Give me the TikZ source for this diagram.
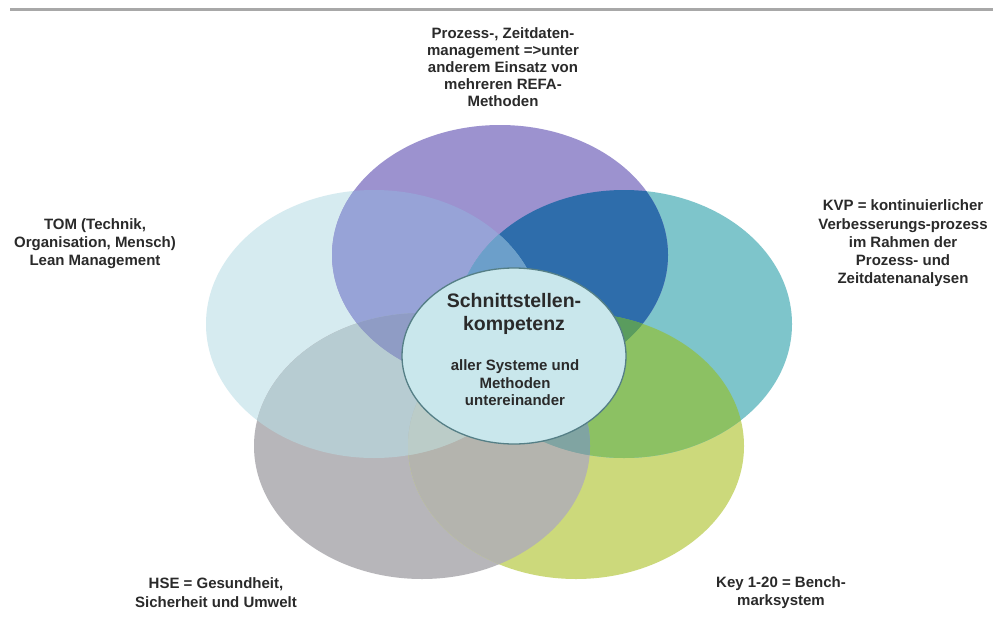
\documentclass[tikz,border=0pt]{standalone}
\usepackage{fontspec}
\setmainfont{Liberation Sans}
\definecolor{cL}{HTML}{D6EBF0}
\definecolor{cP}{HTML}{9C92CF}
\definecolor{cT}{HTML}{7EC5CB}
\definecolor{cG}{HTML}{CCD97B}
\definecolor{cH}{HTML}{B7B6BA}
\definecolor{cPL}{HTML}{97A3D7}
\definecolor{cPT}{HTML}{2E6DAB}
\definecolor{cTG}{HTML}{8CC163}
\definecolor{cHL}{HTML}{B7CCD2}
\definecolor{cHG}{HTML}{B4B4AE}
\definecolor{cPLT}{HTML}{6C9FCA}
\definecolor{cPLH}{HTML}{8F9CC5}
\definecolor{cPTG}{HTML}{5A9C5E}
\definecolor{cHGT}{HTML}{80A4A2}
\definecolor{cHGL}{HTML}{BBCCC8}
\definecolor{cLT}{HTML}{8BBFD0}
\definecolor{cCfill}{HTML}{C9E7EC}
\definecolor{cCdraw}{HTML}{557F86}
\definecolor{txtc}{HTML}{2A2A2A}
\definecolor{rulec}{HTML}{A8A8A8}
\newcommand\vennL{(374,324) ellipse [x radius=168pt, y radius=134pt]}
\newcommand\vennP{(500,255) ellipse [x radius=168pt, y radius=130pt]}
\newcommand\vennT{(624,324) ellipse [x radius=168pt, y radius=134pt]}
\newcommand\vennG{(576,446) ellipse [x radius=168pt, y radius=133pt]}
\newcommand\vennH{(422,446) ellipse [x radius=168pt, y radius=133pt]}
\newcommand\pairfill[3]{\begin{scope}\clip #1;\fill[#3] #2;\end{scope}}
\newcommand\triplefill[4]{\begin{scope}\clip #1;\clip #2;\fill[#4] #3;\end{scope}}
\begin{document}
\begin{tikzpicture}[x=1pt,y=-1pt,
  lbl/.style={font=\bfseries\fontsize{15}{18.3}\selectfont, text=txtc, align=center, inner sep=0pt},
  lbltop/.style={font=\bfseries\fontsize{15}{17}\selectfont, text=txtc, align=center, inner sep=0pt},
  lbltitle/.style={font=\bfseries\fontsize{19.5}{23}\selectfont, text=txtc, align=center, inner sep=0pt},
  lblsub/.style={font=\bfseries\fontsize{15}{17.5}\selectfont, text=txtc, align=center, inner sep=0pt}]
\fill[white] (0,0) rectangle (1003,626);
\useasboundingbox (0,0) rectangle (1003,626);
\draw[rulec, line width=3pt] (10,9.5) -- (993,9.5);
% single sets
\fill[cL] \vennL;
\fill[cH] \vennH;
\fill[cG] \vennG;
\fill[cT] \vennT;
\fill[cP] \vennP;
% pairs
\pairfill{\vennP}{\vennL}{cPL}
\pairfill{\vennP}{\vennT}{cPT}
\pairfill{\vennT}{\vennG}{cTG}
\pairfill{\vennH}{\vennL}{cHL}
\pairfill{\vennH}{\vennG}{cHG}
\pairfill{\vennP}{\vennH}{cPLH}
\pairfill{\vennP}{\vennG}{cPTG}
\pairfill{\vennL}{\vennT}{cLT}
\pairfill{\vennL}{\vennG}{cHGL}
\pairfill{\vennH}{\vennT}{cHGT}
% triples
\triplefill{\vennP}{\vennL}{\vennT}{cPLT}
\triplefill{\vennP}{\vennL}{\vennH}{cPLH}
\triplefill{\vennP}{\vennT}{\vennG}{cPTG}
\triplefill{\vennH}{\vennG}{\vennT}{cHGT}
\triplefill{\vennH}{\vennG}{\vennL}{cHGL}
% centre
\filldraw[fill=cCfill, draw=cCdraw, line width=1.3pt] (514,356) ellipse [x radius=112pt, y radius=88pt];
\node[lbltitle] (title) at (514,313.5) {Schnittstellen-\\kompetenz};
\node[lblsub] (sub) at (515,383) {aller Systeme und\\Methoden\\untereinander};
% labels
\node[lbltop] (prozess) at (503,67) {Prozess-, Zeitdaten-\\management =>unter\\anderem Einsatz von\\mehreren REFA-\\Methoden};
\node[lbl] (tom) at (95,243.5) {TOM (Technik,\\Organisation, Mensch)\\Lean Management};
\node[lbl] (kvp) at (903,243.5) {KVP = kontinuierlicher\\Verbesserungs-prozess\\im Rahmen der\\Prozess- und\\Zeitdatenanalysen};
\node[lbl] (hse) at (216,592.5) {HSE = Gesundheit,\\Sicherheit und Umwelt};
\node[lbl] (key) at (781,592.5) {Key 1-20 = Bench-\\marksystem};
\end{tikzpicture}
\end{document}
